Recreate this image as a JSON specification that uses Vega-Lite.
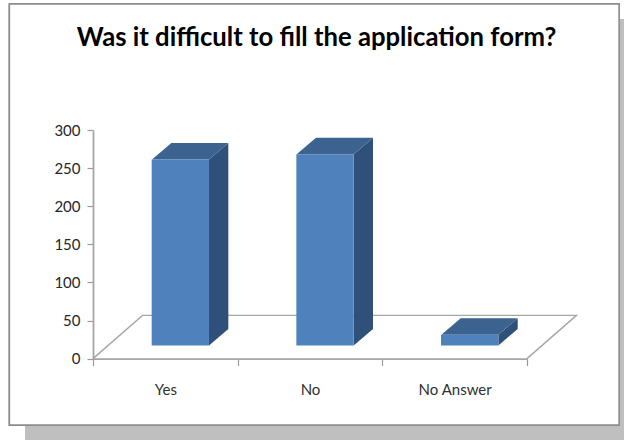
{
  "$schema": "https://vega.github.io/schema/vega-lite/v6.json",
  "width": 624,
  "height": 440,
  "padding": 0,
  "autosize": "none",
  "background": "white",
  "config": {"view": {"stroke": null}},
  "title": {
    "text": "Was it difficult to fill the application form?",
    "font": "Lato",
    "fontSize": 25.7,
    "fontWeight": "bold",
    "color": "#000000",
    "anchor": "middle",
    "frame": "group",
    "dx": 4.5,
    "dy": 72,
    "baseline": "alphabetic",
    "offset": 0,
    "zindex": 1
  },
  "data": {
    "values": [
      {"answer": "Yes", "count": 244},
      {"answer": "No", "count": 251},
      {"answer": "No Answer", "count": 14}
    ]
  },
  "transform": [
    {"calculate": "indexof(['Yes','No','No Answer'], datum.answer)", "as": "slot"},
    {"calculate": "[0, 1]", "as": "depth"},
    {"flatten": ["depth"]},
    {"calculate": "17.2 + datum.depth * 21.7", "as": "faceBase"},
    {"calculate": "datum.count + datum.faceBase", "as": "faceTop"},
    {"calculate": "datum.slot + 0.408 + datum.depth * 0.1335", "as": "faceLeft"},
    {"calculate": "datum.slot + 0.802 + datum.depth * 0.1335", "as": "faceRight"}
  ],
  "layer": [
    {
      "description": "drop shadow behind the chart frame",
      "mark": {"type": "rect", "fill": "#bfbfbf"},
      "encoding": {
        "x": {"value": 25},
        "x2": {"value": 624},
        "y": {"value": 19},
        "y2": {"value": 440}
      }
    },
    {
      "description": "chart frame",
      "mark": {"type": "rect", "fill": "#ffffff", "stroke": "#8c8c8c", "strokeWidth": 1.3},
      "encoding": {
        "x": {"value": 9.5},
        "x2": {"value": 619},
        "y": {"value": 4},
        "y2": {"value": 425}
      }
    },
    {
      "description": "outline of the chart floor, with the count axis",
      "data": {
        "values": [
          {"corner": 0, "across": 0, "up": 0},
          {"corner": 1, "across": 0.342, "up": 56.7},
          {"corner": 2, "across": 3.342, "up": 56.7},
          {"corner": 3, "across": 3, "up": 0}
        ]
      },
      "transform": [],
      "mark": {"type": "line", "color": "#a6a6a6", "strokeWidth": 1.4},
      "encoding": {
        "x": {"field": "across", "type": "quantitative", "axis": null, "scale": {"domain": [0, 3], "range": [93, 527]}},
        "y": {
          "field": "up",
          "type": "quantitative",
          "title": null,
          "scale": {"domain": [0, 300], "range": [358.6, 130], "nice": false},
          "axis": {
            "orient": "left",
            "offset": -93,
            "zindex": 1,
            "values": [0, 50, 100, 150, 200, 250, 300],
            "grid": false,
            "domain": true,
            "labelFont": "Lato",
            "labelFontSize": 15,
            "labelColor": "#262626",
            "labelPadding": 7,
            "ticks": true,
            "tickSize": 6,
            "tickColor": "#9a9a9a",
            "tickWidth": 1.2,
            "domainColor": "#a6a6a6",
            "domainWidth": 1.8
          }
        },
        "order": {"field": "corner"}
      }
    },
    {
      "description": "right side of each column",
      "mark": {"type": "area", "orient": "vertical", "color": "#2f5078"},
      "encoding": {
        "x": {"field": "faceRight", "type": "quantitative", "axis": null, "scale": {"domain": [0, 3], "range": [93, 527]}},
        "y": {"field": "faceTop", "type": "quantitative", "stack": null},
        "y2": {"field": "faceBase"},
        "detail": {"field": "answer"}
      }
    },
    {
      "description": "top of each column",
      "mark": {"type": "area", "orient": "horizontal", "color": "#3c6390"},
      "encoding": {
        "y": {"field": "faceTop", "type": "quantitative"},
        "x": {"field": "faceLeft", "type": "quantitative", "stack": null, "axis": null, "scale": {"domain": [0, 3], "range": [93, 527]}},
        "x2": {"field": "faceRight"},
        "detail": {"field": "answer"}
      }
    },
    {
      "description": "front of each column, with the category axis",
      "transform": [{"filter": "datum.depth === 0"}],
      "mark": {
        "type": "rect",
        "color": "#4f81bd",
        "width": 57.3,
        "xOffset": 15,
        "yOffset": -13.1,
        "y2Offset": -13.1
      },
      "encoding": {
        "x": {
          "field": "answer",
          "type": "nominal",
          "sort": null,
          "title": null,
          "scale": {"range": [93, 527], "padding": 0},
          "axis": {
            "orient": "bottom",
            "offset": -81.4,
            "zindex": 1,
            "labelAngle": 0,
            "tickBand": "extent",
            "domain": true,
            "labelFont": "Lato",
            "labelFontSize": 15,
            "labelColor": "#303030",
            "labelPadding": 17,
            "tickSize": 7,
            "tickColor": "#9a9a9a",
            "tickWidth": 1.2,
            "domainColor": "#a6a6a6",
            "domainWidth": 1.8
          }
        },
        "y": {"field": "count", "type": "quantitative"},
        "y2": {"datum": 0}
      }
    }
  ],
  "resolve": {"scale": {"x": "independent"}}
}
